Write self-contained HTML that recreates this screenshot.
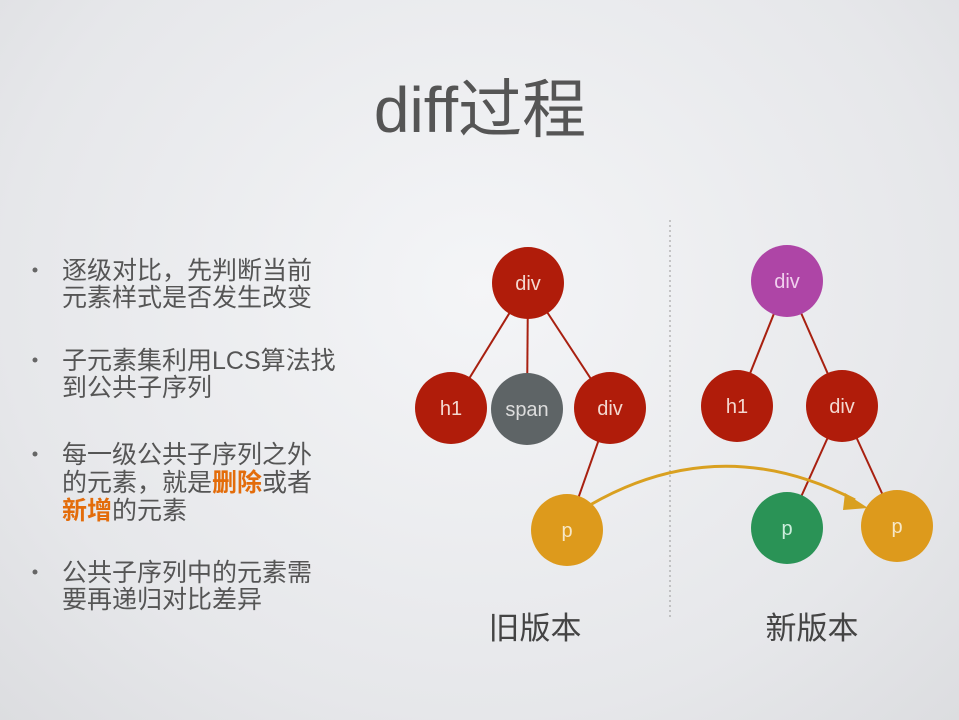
<!DOCTYPE html>
<html><head><meta charset="utf-8"><style>
body{margin:0;width:959px;height:720px;overflow:hidden;background:radial-gradient(ellipse at 50% 40%,#f4f5f7 0%,#e6e7ea 70%,#dcdde0 100%);font-family:"Liberation Sans","Noto Sans CJK SC",sans-serif}
</style></head><body>
<svg width="959" height="720" xmlns="http://www.w3.org/2000/svg" style="position:absolute;left:0;top:0">
<text x="480" y="132" text-anchor="middle" font-size="64" fill="#555" font-family="Liberation Sans,Noto Sans CJK SC,sans-serif">diff过程</text>
<g fill="#666"><circle cx="35" cy="270" r="2.5"/><circle cx="35" cy="360" r="2.5"/><circle cx="35" cy="454" r="2.5"/><circle cx="35" cy="572" r="2.5"/></g>
<g font-size="25" fill="#555" font-family="Liberation Sans,Noto Sans CJK SC,sans-serif">
<text x="62" y="279">逐级对比，先判断当前</text><text x="62" y="306">元素样式是否发生改变</text>
<text x="62" y="369">子元素集利用LCS算法找</text><text x="62" y="396">到公共子序列</text>
<text x="62" y="463">每一级公共子序列之外</text><text x="62" y="491">的元素，就是<tspan fill="#e36c0a" font-weight="bold">删除</tspan>或者</text><text x="62" y="519"><tspan fill="#e36c0a" font-weight="bold">新增</tspan>的元素</text>
<text x="62" y="581">公共子序列中的元素需</text><text x="62" y="608">要再递归对比差异</text>
</g>
<line x1="670" y1="220" x2="670" y2="620" stroke="#999" stroke-width="1" stroke-dasharray="2,3"/>
<g stroke="#a82010" stroke-width="2">
<line x1="528" y1="283" x2="451" y2="408"/><line x1="528" y1="283" x2="527" y2="409"/><line x1="528" y1="283" x2="610" y2="408"/><line x1="610" y1="408" x2="567" y2="530"/>
<line x1="787" y1="281" x2="737" y2="406"/><line x1="787" y1="281" x2="842" y2="406"/><line x1="842" y1="406" x2="787" y2="528"/><line x1="842" y1="406" x2="897" y2="526"/>
</g>
<g font-size="20" fill="#f3d8d0" text-anchor="middle" font-family="Liberation Sans,sans-serif">
<circle cx="528" cy="283" r="36" fill="#b01c0a"/><text x="528" y="290">div</text>
<circle cx="451" cy="408" r="36" fill="#b01c0a"/><text x="451" y="415">h1</text>
<circle cx="527" cy="409" r="36" fill="#5e6466"/><text x="527" y="416" fill="#ddd">span</text>
<circle cx="610" cy="408" r="36" fill="#b01c0a"/><text x="610" y="415">div</text>
<circle cx="567" cy="530" r="36" fill="#dd9a1c"/><text x="567" y="537" fill="#f7e8c8">p</text>
<circle cx="787" cy="281" r="36" fill="#ae45a6"/><text x="787" y="288" fill="#f0d0ee">div</text>
<circle cx="737" cy="406" r="36" fill="#b01c0a"/><text x="737" y="413">h1</text>
<circle cx="842" cy="406" r="36" fill="#b01c0a"/><text x="842" y="413">div</text>
<circle cx="787" cy="528" r="36" fill="#2a9356"/><text x="787" y="535" fill="#cdeedd">p</text>
<circle cx="897" cy="526" r="36" fill="#dd9a1c"/><text x="897" y="533" fill="#f7e8c8">p</text>
</g>
<path d="M590 505 Q720 430 855 500" fill="none" stroke="#d9a020" stroke-width="3"/>
<polygon points="868,508 845,493 843,510" fill="#d9a020"/>
<g font-size="31" fill="#444" text-anchor="middle" font-family="Liberation Sans,Noto Sans CJK SC,sans-serif">
<text x="535" y="639">旧版本</text><text x="812" y="639">新版本</text>
</g>
</svg>
</body></html>
